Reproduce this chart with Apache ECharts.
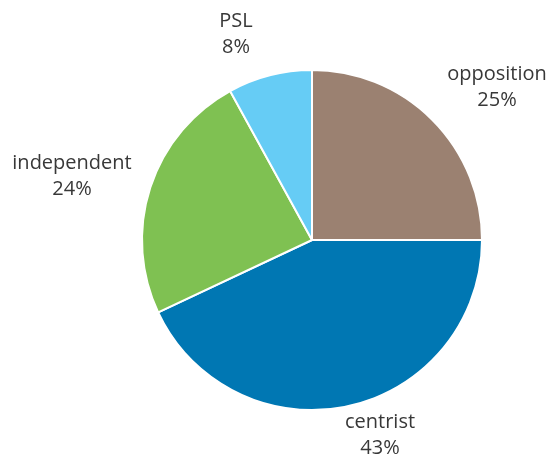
<!DOCTYPE html>
<html>
<head>
<meta charset="utf-8">
<script src="https://cdn.jsdelivr.net/npm/echarts@6/dist/echarts.min.js"></script>
<style>
  html, body { margin: 0; padding: 0; background: #fff; }
  #chart { width: 556px; height: 459px; }
</style>
</head>
<body>
<div id="chart"></div>
<script>
const categories = ['opposition', 'centrist', 'independent', 'PSL'];
const shares = [25, 43, 24, 8];
const colors = ['#9b8171', '#0077b3', '#7fc152', '#66ccf5'];

// where the labels sit in the picture (centre of the two-line block)
const labelSpots = [[497, 87], [380, 435], [72, 176], [236, 34]];

const chart = echarts.init(document.getElementById('chart'));

chart.setOption({
  animation: false,
  series: [{
    type: 'pie',
    center: [312, 240],
    radius: 170,
    startAngle: 90,
    clockwise: true,
    data: categories.map((name, i) => ({
      name,
      value: shares[i],
      itemStyle: { color: colors[i] }
    })),
    itemStyle: { borderColor: '#fff', borderWidth: 2 },
    label: {
      show: true,
      position: 'outside',
      formatter: p => `${p.name}\n${p.value}%`,
      color: '#383838',
      fontFamily: 'Open Sans',
      fontSize: 20,
      lineHeight: 26,
      align: 'center',
      overflow: 'none'
    },
    labelLine: { show: false },
    labelLayout: p => ({
      x: labelSpots[p.dataIndex][0],
      y: labelSpots[p.dataIndex][1],
      align: 'center',
      verticalAlign: 'middle'
    })
  }]
});
</script>
</body>
</html>
